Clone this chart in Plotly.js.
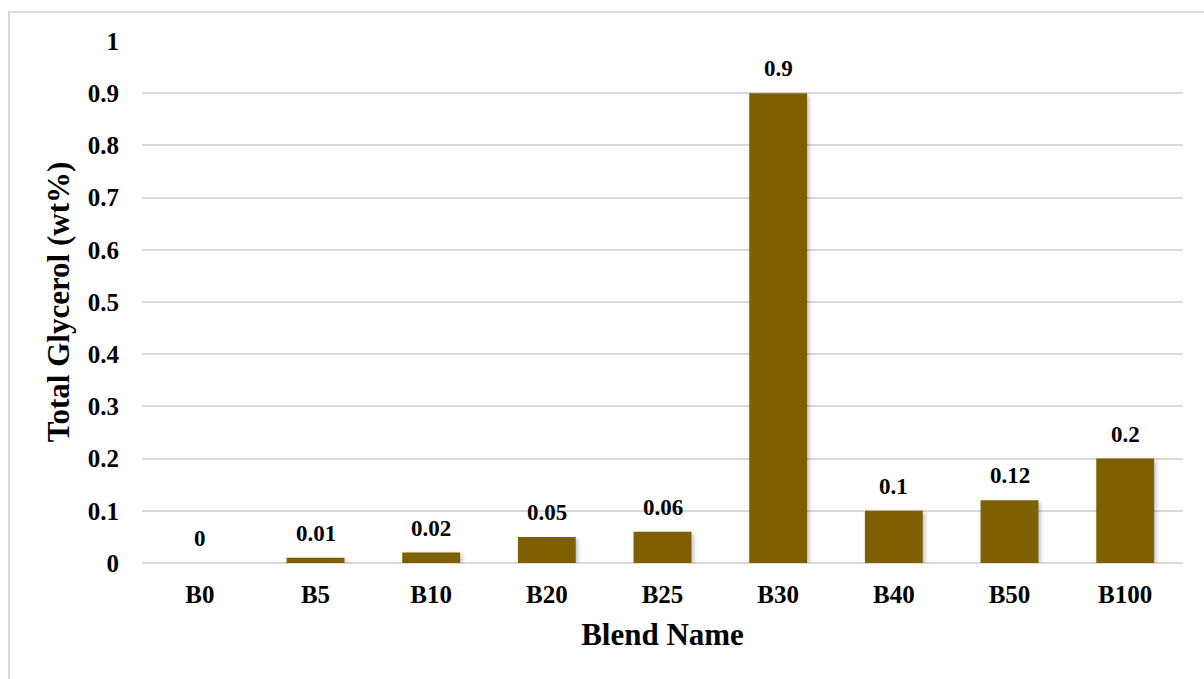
<!DOCTYPE html>
<html>
<head>
<meta charset="utf-8">
<script src="https://cdn.plot.ly/plotly-3.0.1.min.js"></script>
<style>
  html, body { margin: 0; padding: 0; background: #ffffff; }
  #wrap { position: relative; width: 1204px; height: 679px; overflow: hidden; }
  #chart { position: absolute; left: 0; top: 0; width: 1204px; height: 679px; }
  #frame {
    position: absolute; left: 8px; top: 11px; width: 1300px; height: 800px;
    border-left: 2px solid #d9d9d9; border-top: 2px solid #d9d9d9;
    pointer-events: none;
  }
  #chart .bars .point path { filter: drop-shadow(2px 2px 2px rgba(0,0,0,0.25)); }
</style>
</head>
<body>
<div id="wrap">
  <div id="chart"></div>
  <div id="frame"></div>
</div>
<script>
// Total glycerol content per blend
const blends = ["B0", "B5", "B10", "B20", "B25", "B30", "B40", "B50", "B100"];
const glycerol = [0, 0.01, 0.02, 0.05, 0.06, 0.9, 0.1, 0.12, 0.2];
const yTicks = [0, 0.1, 0.2, 0.3, 0.4, 0.5, 0.6, 0.7, 0.8, 0.9, 1];
const yTickText = ["0", "0.1", "0.2", "0.3", "0.4", "0.5", "0.6", "0.7", "0.8", "0.9", "1"];

const serif = "Liberation Serif, Times New Roman, serif";
const barColor = "#7f6000";

const trace = {
  type: "bar",
  x: blends,
  y: glycerol,
  marker: { color: barColor, line: { width: 0 } },
  hoverinfo: "x+y"
};

// value labels above each bar
const labels = blends.map((b, i) => ({
  x: b,
  y: glycerol[i],
  xref: "x",
  yref: "y",
  text: "<b>" + String(glycerol[i]) + "</b>",
  showarrow: false,
  yanchor: "bottom",
  yshift: 10,
  font: { family: serif, size: 23, color: "#000000" }
}));

const layout = {
  width: 1204,
  height: 679,
  margin: { l: 142, r: 21, t: 41, b: 116, pad: 0 },
  paper_bgcolor: "#ffffff",
  plot_bgcolor: "#ffffff",
  showlegend: false,
  bargap: 0.5,
  font: { family: serif, color: "#000000" },
  xaxis: {
    type: "category",
    tickvals: blends,
    ticktext: blends.map(b => "<b>" + b + "</b>"),
    showline: false,
    showgrid: false,
    ticks: "",
    tickfont: { family: serif, size: 25, color: "#000000" },
    ticklabelstandoff: 14,
    title: {
      text: "<b>Blend Name</b>",
      font: { family: serif, size: 31, color: "#000000" },
      standoff: 16
    }
  },
  yaxis: {
    range: [0, 1],
    tickvals: yTicks,
    ticktext: yTickText.map(t => "<b>" + t + "</b>"),
    showline: false,
    showgrid: true,
    gridcolor: "#d9d9d9",
    gridwidth: 2,
    zeroline: true,
    zerolinecolor: "#d9d9d9",
    zerolinewidth: 2,
    ticks: "",
    tickfont: { family: serif, size: 25, color: "#000000" },
    ticklabelstandoff: 22,
    title: {
      text: "<b>Total Glycerol (wt%)</b>",
      font: { family: serif, size: 31, color: "#000000" },
      standoff: 8
    }
  },
  annotations: labels
};

Plotly.newPlot("chart", [trace], layout, { displayModeBar: false, staticPlot: true });
</script>
</body>
</html>
